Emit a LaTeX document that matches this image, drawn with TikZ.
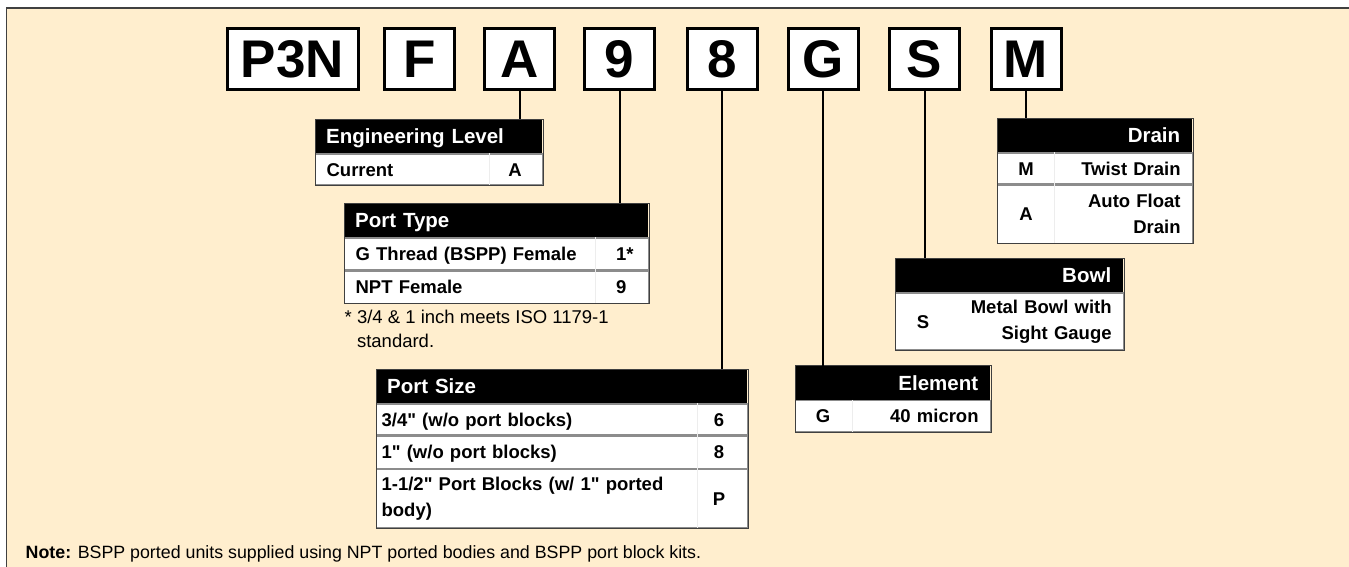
\documentclass[tikz,border=0pt]{standalone}
\usepackage{fontspec}
\setmainfont{Liberation Sans}[Ligatures=TeXOff]
\usepackage{xcolor}
\usepackage{tikz}

\definecolor{cream}{RGB}{255,238,206}

\tikzset{
	codebox/.style={draw, line width=3pt, fill=white, minimum width=70pt, minimum height=61pt, inner sep=0pt, font=\bfseries\fontsize{53}{53}\selectfont},
	link/.style={line width=2pt},
	headcell/.style={fill=black, text=white, anchor=north west, inner ysep=0pt, inner xsep=11pt, minimum height=34pt, text height=14.7pt, text depth=0pt, font=\bfseries\fontsize{20.5}{24}\selectfont},
	rowcell/.style={fill=white, draw=black!45, line width=1.2pt, anchor=north west, inner ysep=0pt, inner xsep=11pt, font=\bfseries\fontsize{18.5}{26}\selectfont},
	oneline/.style={rowcell, text height=13.2pt, text depth=0pt},
	cellval/.style={inner sep=0pt, text height=13.2pt, text depth=0pt, font=\bfseries\fontsize{18.5}{26}\selectfont},
	tblframe/.style={draw=black!75, line width=0.8pt},
	colsep/.style={draw=black!7, line width=0.8pt}
}

\begin{document}
\begin{tikzpicture}[x=1pt, y=-1pt]
		\useasboundingbox (0,0) rectangle (1349,567);
		\clip (0,0) rectangle (1349,567);
		\draw[draw=black!75, line width=1.5pt, fill=cream] (6.7,8) rectangle (1380,600);
		\node[codebox, minimum width=131pt] (p3n) at (292.5,59) {P3N};
		\node[codebox] (f) at (419.5,59) {F};
		\node[codebox] (a) at (519.5,59) {A};
		\node[codebox] (nine) at (619.5,59) {9};
		\node[codebox] (eight) at (722,59) {8};
		\node[codebox] (g) at (823,59) {G};
		\node[codebox] (s) at (924.5,59) {S};
		\node[codebox] (m) at (1026,59) {M};
		\node[headcell, text width=205pt, align=left] (englvl) at (315,119) {Engineering Level};
		\node[oneline, text width=205pt, align=left, minimum height=31pt] (englvl1) at (englvl.south west) {Current};
		\node[cellval] (englvlA) at (515,0 |- englvl1) {A};
		\draw[colsep] (489,0 |- englvl1.north) -- (489,0 |- englvl1.south);
		\draw[tblframe] (englvl.north west) rectangle (englvl1.south east);
		\node[headcell, text width=282pt, align=left] (porttype) at (344,203) {Port Type};
		\node[oneline, text width=282pt, align=left, minimum height=32pt] (porttype1) at (porttype.south west) {G Thread (BSPP) Female};
		\node[oneline, text width=282pt, align=left, minimum height=32pt] (porttype2) at (porttype1.south west) {NPT Female};
		\node[cellval, anchor=west] (porttypeG) at (616,0 |- porttype1) {1*};
		\node[cellval, anchor=west] (porttypeN) at (616,0 |- porttype2) {9};
		\draw[colsep] (595,0 |- porttype1.north) -- (595,0 |- porttype2.south);
		\draw[tblframe] (porttype.north west) rectangle (porttype2.south east);
		\node[anchor=north west, inner sep=0pt, align=left, font=\fontsize{18.5}{24}\selectfont] (porttypenote) at (344.5,309.5) {* 3/4 \& 1 inch meets ISO 1179-1\\\phantom{*\ }standard.};
		\node[headcell, text width=349pt, align=left] (portsize) at (376,369) {Port Size};
		\node[oneline, text width=361pt, inner xsep=5pt, align=left, minimum height=31pt] (portsize1) at (portsize.south west) {3/4" (w/o port blocks)};
		\node[oneline, text width=361pt, inner xsep=5pt, align=left, minimum height=32pt] (portsize2) at (portsize1.south west) {1" (w/o port blocks)};
		\node[rowcell, text width=361pt, inner xsep=5pt, align=left, minimum height=58pt] (portsize3) at (portsize2.south west) {1-1/2" Port Blocks (w/ 1" ported\\body)};
		\node[cellval] (portsize6) at (719,0 |- portsize1) {6};
		\node[cellval] (portsize8) at (719,0 |- portsize2) {8};
		\node[cellval] (portsizeP) at (719,0 |- portsize3) {P};
		\draw[colsep] (697,0 |- portsize1.north) -- (697,0 |- portsize3.south);
		\draw[tblframe] (portsize.north west) rectangle (portsize3.south east);
		\node[headcell, text width=171pt, inner xsep=12pt, align=right] (element) at (795,365.5) {Element};
		\node[oneline, text width=171pt, inner xsep=12pt, align=right, minimum height=31.5pt] (element1) at (element.south west) {40 micron};
		\node[cellval] (elementG) at (823,0 |- element1) {G};
		\draw[colsep] (852,0 |- element1.north) -- (852,0 |- element1.south);
		\draw[tblframe] (element.north west) rectangle (element1.south east);
		\node[headcell, text width=204pt, inner xsep=12pt, align=right] (bowl) at (895,258) {Bowl};
		\node[rowcell, text width=204pt, inner xsep=12pt, align=right, minimum height=57pt] (bowl1) at (bowl.south west) {Metal Bowl with\\Sight Gauge};
		\node[cellval] (bowlS) at (923,0 |- bowl1) {S};
		\draw[tblframe] (bowl.north west) rectangle (bowl1.south east);
		\node[headcell, text width=171pt, inner xsep=12pt, align=right] (drain) at (997,118) {Drain};
		\node[oneline, text width=171pt, inner xsep=12pt, align=right, minimum height=31pt] (drain1) at (drain.south west) {Twist Drain};
		\node[rowcell, text width=171pt, inner xsep=12pt, align=right, minimum height=58pt] (drain2) at (drain1.south west) {Auto Float\\Drain};
		\node[cellval] (drainM) at (1026,0 |- drain1) {M};
		\node[cellval] (drainA) at (1026,0 |- drain2) {A};
		\draw[colsep] (1054,0 |- drain1.north) -- (1054,0 |- drain2.south);
		\draw[tblframe] (drain.north west) rectangle (drain2.south east);
		\draw[link] (a.south) -- (a.south |- englvl.north);
		\draw[link] (nine.south) -- (nine.south |- porttype.north);
		\draw[link] (eight.south) -- (eight.south |- portsize.north);
		\draw[link] (g.south) -- (g.south |- element.north);
		\draw[link] (s.south) -- (s.south |- bowl.north);
		\draw[link] (m.south) -- (m.south |- drain.north);
		\node[anchor=base west, inner sep=0pt, font=\fontsize{17.8}{20}\selectfont] (note) at (25.5,558) {\textbf{Note:} BSPP ported units supplied using NPT ported bodies and BSPP port block kits.};
	\end{tikzpicture}
\end{document}
